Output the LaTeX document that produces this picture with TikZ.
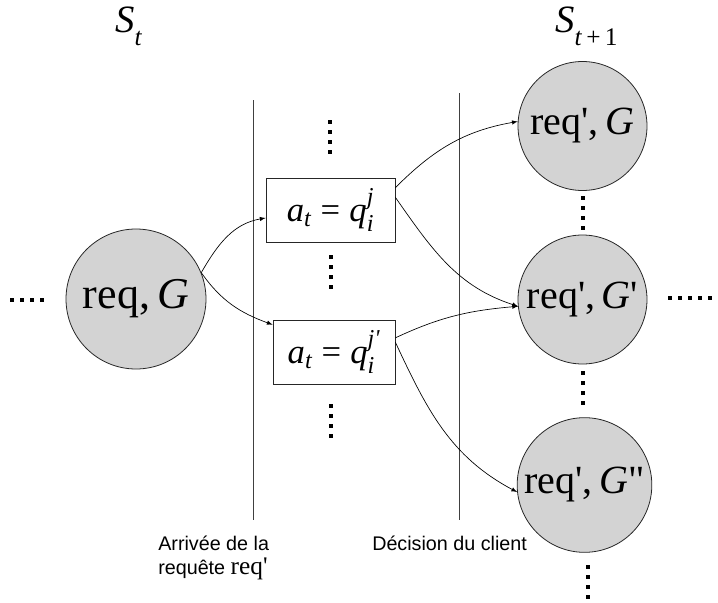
\documentclass[tikz,border=0pt]{standalone}
\usepackage{amsmath}
\usepackage{fontspec}
\setmainfont{Liberation Serif}
\newfontfamily\captionfont{Liberation Sans}
\usetikzlibrary{arrows, calc}

\definecolor{stategray}{RGB}{211,211,211}
\newcommand{\mi}[1]{\textit{#1}}
\newcommand{\sq}{\textquotesingle}
\newcommand{\lowsub}[1]{\raisebox{-10pt}{\fontsize{19}{22}\selectfont #1}}
\newcommand{\vdotcol}[2]{\foreach \k in {0,...,3} \fill (#1-0.2,#2-\k-0.2) rectangle ++(0.4,0.4);}
\newcommand{\hdotrow}[3]{\foreach \k in {1,...,#3} \fill (#1+\k-1.2,#2-0.2) rectangle ++(0.4,0.4);}

\begin{document}
\begin{tikzpicture}[x=7.5pt, y=7.5pt,
  state/.style={circle, draw=black!85, fill=stategray, line width=0.6pt, inner sep=0pt, font=\fontsize{30}{34}\selectfont},
  actbox/.style={rectangle, draw=black!85, fill=white, line width=0.6pt, minimum height=48pt, inner sep=0pt, font=\fontsize{26}{30}\selectfont},
  link/.style={-latex, line width=0.5pt},
  divider/.style={line width=0.5pt, black!75},
  caption/.style={font=\captionfont\fontsize{14.8}{18}\selectfont, inner sep=0pt},
  stepname/.style={anchor=base west, inner sep=0pt, font=\fontsize{29}{32}\selectfont}]
\useasboundingbox (0,0) rectangle (71.8,-60.3);
% time steps
\node [stepname] (st) at (11.5,-3.2) {\mi{S}\lowsub{\mi{t}}};
\node [stepname] (st1) at (55.5,-3.2) {\mi{S}\lowsub{\mi{t}\,+\,1}};
% separators
\draw [divider] (25.3,-10.0) -- (25.3,-52.0);
\draw [divider] (45.9,-9.3) -- (45.9,-52.0);
% states
\node [state, minimum size=105pt, font=\fontsize{33}{36}\selectfont] (s0) at (13.6,-29.9) {req,\,\mi{G}};
\node [state, minimum size=96.75pt] (c1) at (58.25,-12.6) {req\sq,\,\mi{G}};
\node [state, minimum size=96.75pt] (c2) at (58.25,-29.95) {req\sq,\,\mi{G}\sq};
\node [state, minimum size=101pt] (c3) at (58.45,-48.5) {req\sq,\,\mi{G}\textquotedbl};
% actions
\node [actbox, minimum width=96.75pt] (b1) at (33.05,-21.0) {$\mi{a}_{\mi{t}}\mathrel{\textrm{=}}\mi{q}_{\mi{i}}^{\mi{j}}$};
\node [actbox, minimum width=91.5pt] (b2) at (33.4,-35.2) {$\mi{a}_{\mi{t}}\mathrel{\textrm{=}}\mi{q}_{\mi{i}}^{\mi{j\sq}}$};
% transitions
\draw [link] (s0.22) to[out=60, in=190] (b1.187);
\draw [link] (s0.22) to[out=-55, in=160] (b2.156);
\draw [link] (b1.19) to[out=45, in=190] (c1.176);
\draw [link] (b1.11) to[out=-55, in=162] (c2.186);
\draw [link] (b2.13) to[out=25, in=185] (c2.186);
\draw [link] (b2.9) to[out=-65, in=152] (c3.186);
% dots
\vdotcol{33.0}{-12.2}
\vdotcol{33.1}{-25.7}
\vdotcol{33.07}{-40.6}
\vdotcol{58.25}{-19.8}
\vdotcol{58.25}{-37.3}
\vdotcol{58.8}{-56.7}
\hdotrow{1.2}{-30.0}{4}
\hdotrow{67.0}{-29.8}{5}
% captions
\node [caption, anchor=base west] (arr1) at (15.8,-55.0) {Arrivée de la};
\node [caption, anchor=base west] (arr2) at (15.8,-57.4) {requête {\rmfamily\fontsize{19}{22}\selectfont req\sq}};
\node [caption, anchor=base west] (dec) at (37.2,-55.0) {Décision du client};
\end{tikzpicture}
\end{document}
